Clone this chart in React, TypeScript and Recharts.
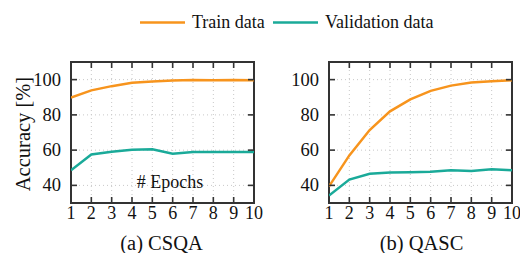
import { LineChart, Line, XAxis, YAxis, CartesianGrid, ReferenceArea } from "recharts";

// epochs on the x axis
const epochs = [1, 2, 3, 4, 5, 6, 7, 8, 9, 10];
const xTicks = [1, 2, 3, 4, 5, 6, 7, 8, 9, 10];
const yTicks = [40, 60, 80, 100];

// accuracy [%] per epoch
const csqaTrain = [89.8, 93.9, 96.3, 98.2, 99.0, 99.5, 99.8, 99.6, 99.8, 99.6];
const csqaVal = [48.6, 57.5, 59.1, 60.2, 60.5, 58.0, 58.9, 59.0, 59.0, 59.0];
const qascTrain = [39.4, 57.0, 71.4, 82.0, 88.8, 93.6, 96.6, 98.4, 99.1, 99.6];
const qascVal = [34.2, 43.3, 46.6, 47.3, 47.5, 47.7, 48.6, 48.2, 49.2, 48.6];

const ORANGE = "#f7941d";
const TEAL = "#1aaa99";
const FRAME = "#333333";
const FONT = "Liberation Serif";

// plot box geometry (pixels)
const BOX_TOP = 62;
const BOX_H = 141;
const BOX_W = 183;
const BOXES_LEFT = [71, 329];

const toRows = (train: number[], val: number[]) =>
  epochs.map((e, i) => ({ epoch: e, train: train[i], val: val[i] }));

const BottomTick = (props: any) => {
  const { x, y, payload } = props;
  return (
    <text x={x} y={y + 11} textAnchor="middle" fontFamily={FONT} fontSize={18} fill="#111">
      {payload.value}
    </text>
  );
};

const LeftTick = (props: any) => {
  const { x, y, payload } = props;
  return (
    <text x={x} y={y + 6} textAnchor="end" fontFamily={FONT} fontSize={18.5} fill="#111">
      {payload.value}
    </text>
  );
};

const Panel = ({ train, val, left, padL, width }: { train: number[]; val: number[]; left: number; padL: number; width: number }) => {
  const data = toRows(train, val);
  return (
    <div style={{ position: "absolute", left: left, top: 0 }}>
      <LineChart
        width={width}
        height={253}
        data={data}
        margin={{ top: BOX_TOP, right: width - BOX_W - 40 - padL, bottom: 20, left: padL }}
      >
        <CartesianGrid stroke="#c8c8c8" strokeDasharray="1 3" />
        <XAxis
          dataKey="epoch"
          type="number"
          domain={[1, 10]}
          ticks={xTicks}
          height={30}
          axisLine={false}
          tickLine={false}
          tickMargin={5}
          tickSize={0}
          tick={<BottomTick />}
          interval={0}
          allowDataOverflow
        />
        <YAxis
          type="number"
          domain={[30, 110]}
          ticks={yTicks}
          width={40}
          axisLine={false}
          tickLine={false}
          tickSize={0}
          tickMargin={10}
          tick={<LeftTick />}
          interval={0}
          allowDataOverflow
        />
        <Line
          dataKey="train"
          type="linear"
          stroke={ORANGE}
          strokeWidth={2.5}
          dot={false}
          isAnimationActive={false}
        />
        <Line
          dataKey="val"
          type="linear"
          stroke={TEAL}
          strokeWidth={2.5}
          dot={false}
          isAnimationActive={false}
        />
        <ReferenceArea
          x1={1}
          x2={10}
          y1={30}
          y2={110}
          fill="none"
          fillOpacity={0}
          stroke={FRAME}
          strokeWidth={2}
          strokeOpacity={1}
          ifOverflow="visible"
        />
      </LineChart>
    </div>
  );
};

// inward tick marks on all four sides of a box
const BoxTicks = ({ x0 }: { x0: number }) => {
  const sx = (v: number) => x0 + ((v - 1) / 9) * BOX_W;
  const sy = (v: number) => BOX_TOP + ((110 - v) / 80) * BOX_H;
  return (
    <g>
      {xTicks.slice(1, -1).map((t) => (
        <g key={"x" + t}>
          <line x1={sx(t)} x2={sx(t)} y1={BOX_TOP + BOX_H} y2={BOX_TOP + BOX_H - 6} stroke={FRAME} strokeWidth={1.6} />
          <line x1={sx(t)} x2={sx(t)} y1={BOX_TOP} y2={BOX_TOP + 6} stroke={FRAME} strokeWidth={1.6} />
        </g>
      ))}
      {yTicks.map((t) => (
        <g key={"y" + t}>
          <line x1={x0} x2={x0 + 6} y1={sy(t)} y2={sy(t)} stroke={FRAME} strokeWidth={1.6} />
          <line x1={x0 + BOX_W} x2={x0 + BOX_W - 6} y1={sy(t)} y2={sy(t)} stroke={FRAME} strokeWidth={1.6} />
        </g>
      ))}
    </g>
  );
};

export default function App() {
  return (
    <div
      style={{
        position: "absolute",
        left: 0,
        top: 0,
        width: 520,
        height: 253,
        background: "#fff",
        overflow: "hidden",
        fontFamily: FONT,
      }}
    >
      <Panel train={csqaTrain} val={csqaVal} left={0} padL={31} width={272} />
      <Panel train={qascTrain} val={qascVal} left={260} padL={29} width={260} />

      {/* ticks, legend, axis labels and captions */}
      <svg
        width={520}
        height={253}
        style={{ position: "absolute", left: 0, top: 0, pointerEvents: "none" }}
      >
        {BOXES_LEFT.map((x0) => (
          <BoxTicks key={x0} x0={x0} />
        ))}

        <line x1={140} y1={22.5} x2={185} y2={22.5} stroke={ORANGE} strokeWidth={2.5} />
        <text x={192} y={27.5} fontFamily={FONT} fontSize={18} fill="#111">Train data</text>
        <line x1={273} y1={22.5} x2={318} y2={22.5} stroke={TEAL} strokeWidth={2.5} />
        <text x={325} y={27.5} fontFamily={FONT} fontSize={18} fill="#111">Validation data</text>

        <text
          x={0}
          y={0}
          fontFamily={FONT}
          fontSize={20.5}
          fill="#111"
          textAnchor="middle"
          transform="translate(30,134) rotate(-90)"
        >
          Accuracy [%]
        </text>
        <text x={170} y={188} fontFamily={FONT} fontSize={18} fill="#111" textAnchor="middle">
          # Epochs
        </text>

        <text x={161.5} y={250} fontFamily={FONT} fontSize={20.5} fill="#111" textAnchor="middle">
          (a) CSQA
        </text>
        <text x={421.5} y={250} fontFamily={FONT} fontSize={20.5} fill="#111" textAnchor="middle">
          (b) QASC
        </text>
      </svg>
    </div>
  );
}
